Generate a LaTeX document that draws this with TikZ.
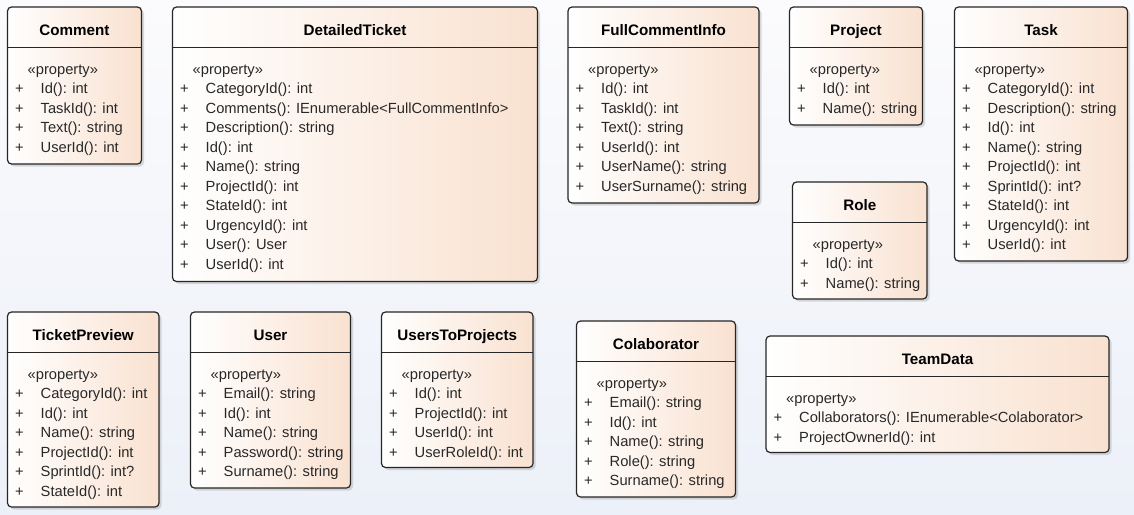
\documentclass[tikz,border=0pt]{standalone}
\usepackage{fontspec}
\setmainfont{Liberation Sans}
\usetikzlibrary{shadows}
\definecolor{peach}{RGB}{249,225,208}
\definecolor{bgtop}{RGB}{251,251,253}
\definecolor{bgbot}{RGB}{236,240,248}
\definecolor{inkgray}{RGB}{40,40,40}
\tikzset{
  classbox/.style={draw=black!85, line width=1.2pt, rounded corners=4pt,
    left color=white, right color=peach, inner sep=0pt, outer sep=0pt,
    drop shadow={shadow xshift=2.5pt, shadow yshift=-2.5pt, opacity=0.3, fill=black!45}},
  headline/.style={draw=black!85, line width=1.2pt},
  classtitle/.style={font=\fontsize{15.2}{18}\selectfont\bfseries, inner sep=0pt, anchor=base},
  member/.style={font=\fontsize{14.7}{17}\selectfont, text=inkgray, inner sep=0pt, anchor=base west},
}
% #1 name, #2 left, #3 top, #4 right, #5 bottom, #6 title
\newcommand{\clsbox}[6]{%
  \pgfmathsetmacro{\cw}{#4-#2}\pgfmathsetmacro{\ch}{#5-#3}%
  \node[classbox, anchor=north west, minimum width=\cw pt, minimum height=\ch pt] (#1) at (#2,#3) {};
  \draw[headline] ([yshift=-40.5pt]#1.north west) -- ([yshift=-40.5pt]#1.north east);
  \node[classtitle] (#1-title) at ([yshift=-28pt]#1.north) {#6};
  \node[member] (#1-stereo) at ([xshift=20pt, yshift=-67pt]#1.north west) {«property»};}
% #1 name, #2 members
\newcommand{\clsrows}[2]{%
  \foreach \m [count=\k] in {#2}{%
    \node[member, anchor=base] (#1-p\k) at ([xshift=12pt, yshift={-67pt-19.5pt*\k}]#1.north west) {+};
    \node[member] (#1-m\k) at ([xshift=33pt, yshift={-67pt-19.5pt*\k}]#1.north west) {\m};}}

\begin{document}
\begin{tikzpicture}[x=1pt, y=-1pt]
  \useasboundingbox (0,0) rectangle (1134,514);
  \shade[top color=bgtop, bottom color=bgbot] (0,0) rectangle (1134,514);
  % top row
  \clsbox{comment}{7.5}{7}{141.5}{164}{Comment}
  \clsrows{comment}{Id(): int, TaskId(): int, Text(): string, UserId(): int}
  \clsbox{detailed}{172.5}{7}{537.5}{281.5}{DetailedTicket}
  \clsrows{detailed}{CategoryId(): int, Comments(): IEnumerable<FullCommentInfo>, Description(): string,
    Id(): int, Name(): string, ProjectId(): int, StateId(): int, UrgencyId(): int, User(): User, UserId(): int}
  \clsbox{fullcomment}{568}{7}{759}{203}{FullCommentInfo}
  \clsrows{fullcomment}{Id(): int, TaskId(): int, Text(): string, UserId(): int, UserName(): string, UserSurname(): string}
  \clsbox{project}{789.5}{7}{922.5}{125}{Project}
  \clsrows{project}{Id(): int, Name(): string}
  \clsbox{task}{954.5}{7}{1127.5}{261}{Task}
  \clsrows{task}{CategoryId(): int, Description(): string, Id(): int, Name(): string, ProjectId(): int,
    SprintId(): int?, StateId(): int, UrgencyId(): int, UserId(): int}
  \clsbox{role}{792.5}{182}{927}{299}{Role}
  \clsrows{role}{Id(): int, Name(): string}
  % bottom row
  \clsbox{preview}{7.5}{312}{159}{507}{TicketPreview}
  \clsrows{preview}{CategoryId(): int, Id(): int, Name(): string, ProjectId(): int, SprintId(): int?, StateId(): int}
  \clsbox{user}{190.5}{312}{350.5}{488}{User}
  \clsrows{user}{Email(): string, Id(): int, Name(): string, Password(): string, Surname(): string}
  \clsbox{usersprojects}{381.5}{312}{533}{467.5}{UsersToProjects}
  \clsrows{usersprojects}{Id(): int, ProjectId(): int, UserId(): int, UserRoleId(): int}
  \clsbox{colab}{576.5}{321}{735.5}{497}{Colaborator}
  \clsrows{colab}{Email(): string, Id(): int, Name(): string, Role(): string, Surname(): string}
  \clsbox{team}{766}{336}{1109}{452.5}{TeamData}
  \clsrows{team}{Collaborators(): IEnumerable<Colaborator>, ProjectOwnerId(): int}
\end{tikzpicture}
\end{document}
